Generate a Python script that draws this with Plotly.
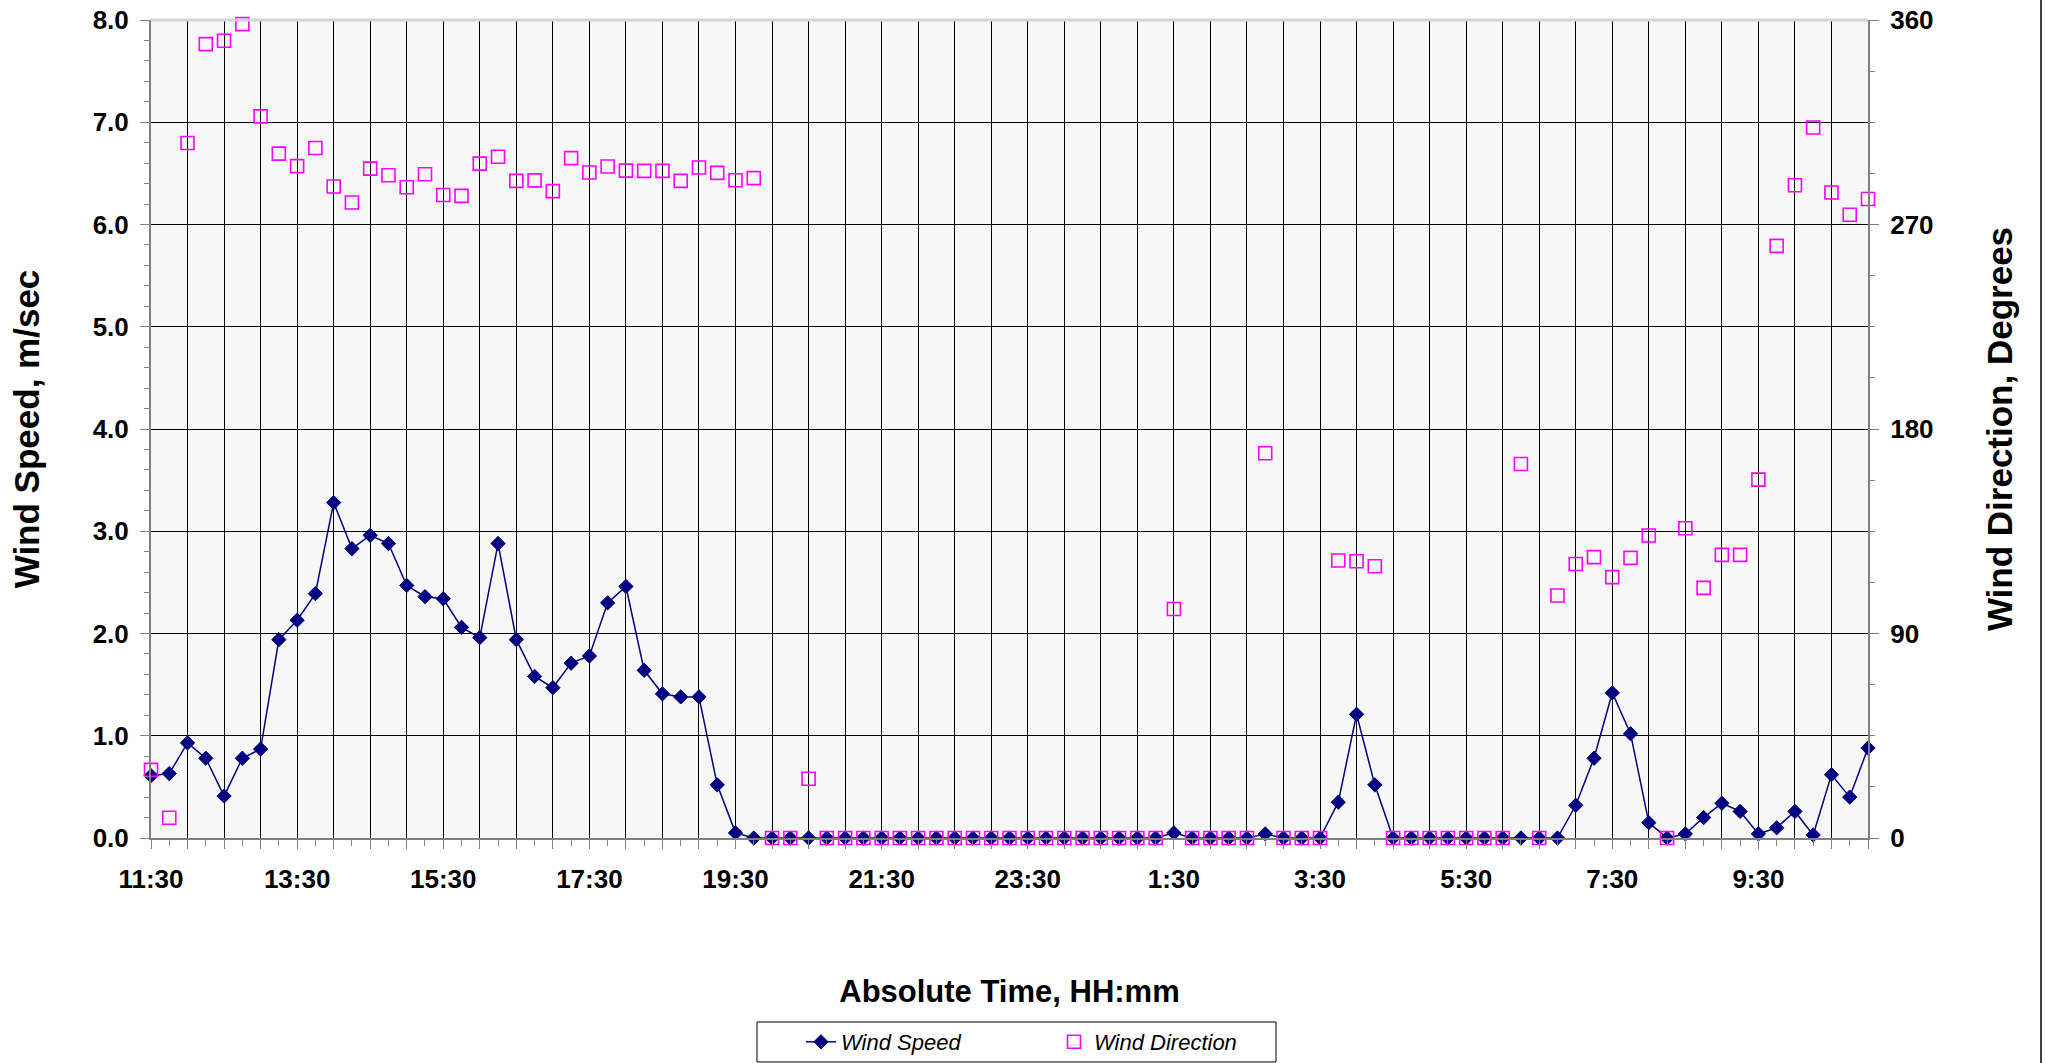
import plotly.graph_objects as go
from datetime import datetime, timedelta

# ---- data ----
time_labels = [
    "11:30", "11:45", "12:00", "12:15", "12:30", "12:45", "13:00", "13:15", "13:30", "13:45",
    "14:00", "14:15", "14:30", "14:45", "15:00", "15:15", "15:30", "15:45", "16:00", "16:15",
    "16:30", "16:45", "17:00", "17:15", "17:30", "17:45", "18:00", "18:15", "18:30", "18:45",
    "19:00", "19:15", "19:30", "19:45", "20:00", "20:15", "20:30", "20:45", "21:00", "21:15",
    "21:30", "21:45", "22:00", "22:15", "22:30", "22:45", "23:00", "23:15", "23:30", "23:45",
    "0:00", "0:15", "0:30", "0:45", "1:00", "1:15", "1:30", "1:45", "2:00", "2:15",
    "2:30", "2:45", "3:00", "3:15", "3:30", "3:45", "4:00", "4:15", "4:30", "4:45",
    "5:00", "5:15", "5:30", "5:45", "6:00", "6:15", "6:30", "6:45", "7:00", "7:15",
    "7:30", "7:45", "8:00", "8:15", "8:30", "8:45", "9:00", "9:15", "9:30", "9:45",
    "10:00", "10:15", "10:30", "10:45", "11:00",
]

wind_speed = [
    0.61, 0.63, 0.93, 0.78, 0.41, 0.78, 0.87, 1.94, 2.13, 2.39,
    3.28, 2.83, 2.96, 2.88, 2.47, 2.36, 2.34, 2.06, 1.96, 2.88,
    1.94, 1.58, 1.47, 1.71, 1.78, 2.30, 2.46, 1.64, 1.41, 1.38,
    1.38, 0.52, 0.05, 0.00, 0.00, 0.00, 0.00, 0.00, 0.00, 0.00,
    0.00, 0.00, 0.00, 0.00, 0.00, 0.00, 0.00, 0.00, 0.00, 0.00,
    0.00, 0.00, 0.00, 0.00, 0.00, 0.00, 0.05, 0.00, 0.00, 0.00,
    0.00, 0.04, 0.00, 0.00, 0.00, 0.35, 1.21, 0.52, 0.00, 0.00,
    0.00, 0.00, 0.00, 0.00, 0.00, 0.00, 0.00, 0.00, 0.32, 0.78,
    1.42, 1.02, 0.15, 0.00, 0.04, 0.20, 0.34, 0.26, 0.04, 0.10,
    0.26, 0.03, 0.62, 0.40, 0.88,
]

wind_direction = [
    30.0, 8.9, 305.9, 349.4, 350.9, 358.2, 317.6, 301.2, 295.7, 303.7,
    286.7, 279.7, 294.6, 291.7, 286.4, 292.1, 283.0, 282.6, 296.8, 299.8,
    289.2, 289.4, 284.7, 299.2, 292.9, 295.5, 293.7, 293.6, 293.6, 289.2,
    295.1, 292.7, 289.5, 290.4, 0.0, 0.0, 26.1, 0.0, 0.0, 0.0,
    0.0, 0.0, 0.0, 0.0, 0.0, 0.0, 0.0, 0.0, 0.0, 0.0,
    0.0, 0.0, 0.0, 0.0, 0.0, 0.0, 100.8, 0.0, 0.0, 0.0,
    0.0, 169.3, 0.0, 0.0, 0.0, 122.1, 121.8, 119.6, 0.0, 0.0,
    0.0, 0.0, 0.0, 0.0, 0.0, 164.6, 0.0, 106.7, 120.6, 123.6,
    114.8, 123.3, 133.1, 0.0, 136.3, 110.1, 124.6, 124.6, 157.7, 260.6,
    287.3, 312.7, 284.1, 274.3, 281.2,
]

x_tick_labels = ["11:30", "13:30", "15:30", "17:30", "19:30", "21:30",
                 "23:30", "1:30", "3:30", "5:30", "7:30", "9:30"]

# ---- convert clock labels to datetimes (day rolls over after midnight) ----
times = []
day = datetime(2000, 1, 1)
prev = None
for lab in time_labels:
    h, m = map(int, lab.split(":"))
    mins = h * 60 + m
    if prev is not None and mins < prev:
        day = day + timedelta(days=1)
    prev = mins
    times.append(day + timedelta(minutes=mins))

fmt = "%Y-%m-%d %H:%M:%S"
xs = [t.strftime(fmt) for t in times]
grid_vals = xs[::2]
grid_text = [lab if lab in x_tick_labels else "" for lab in time_labels[::2]]

FONT = "Liberation Sans, Arial, sans-serif"
tickfont = dict(family=FONT, size=26, color="black", weight="bold")
xtitlefont = dict(family=FONT, size=31, color="black", weight="bold")
ytitlefont = dict(family=FONT, size=35, color="black", weight="bold")

fig = go.Figure()
fig.add_trace(go.Scatter(
    x=xs, y=wind_speed, mode="lines+markers", name="Wind Speed",
    line=dict(color="#000080", width=1.5),
    marker=dict(symbol="diamond", size=11, color="#000080",
                line=dict(color="#000080", width=1)),
    cliponaxis=False,
))
fig.add_trace(go.Scatter(
    x=xs, y=wind_direction, mode="markers", name="Wind Direction", yaxis="y2",
    marker=dict(symbol="square-open", size=13, color="#FF00FF",
                line=dict(color="#FF00FF", width=1.6)),
    cliponaxis=False,
))

L, R, T, B = 151, 178, 20, 225
W, H = 2046, 1063
pw = W - L - R
ph = H - T - B

def px_x(p):
    return (p - L) / pw

def px_y(p):
    return (H - B - p) / ph

fig.update_layout(
    width=W, height=H,
    margin=dict(l=L, r=R, t=T, b=B, autoexpand=False),
    paper_bgcolor="white",
    plot_bgcolor="#F7F7F7",
    font=dict(family=FONT, color="black"),
    showlegend=True,
    legend=dict(
        orientation="h", x=px_x(801), xanchor="left", y=px_y(1042), yanchor="middle",
        font=dict(family=FONT, size=22, color="black", style="italic"),
        bgcolor="rgba(0,0,0,0)", borderwidth=0,
        entrywidth=208, entrywidthmode="pixels",
    ),
    xaxis=dict(
        type="date", range=[xs[0], xs[-1]], automargin=False,
        tickmode="array", tickvals=grid_vals, ticktext=grid_text,
        showgrid=True, gridcolor="black", gridwidth=1,
        showline=True, linecolor="#808080", linewidth=2,
        ticks="outside", ticklen=9, tickcolor="#808080", tickwidth=1,
        minor=dict(ticks="outside", ticklen=6, dtick=900000, tick0=xs[0],
                   tickcolor="#808080", showgrid=False),
        tickfont=tickfont, ticklabelstandoff=8,
        title=dict(text="Absolute Time, HH:mm", font=xtitlefont, standoff=87),
        zeroline=False,
    ),
    yaxis=dict(
        range=[0, 8], tick0=0, dtick=1, tickformat=".1f", automargin=False,
        showgrid=True, gridcolor="black", gridwidth=1, zeroline=False,
        showline=True, linecolor="#808080", linewidth=2,
        ticks="outside", ticklen=9, tickcolor="#808080",
        minor=dict(ticks="outside", ticklen=5, dtick=0.2, tickcolor="#808080", showgrid=False),
        tickfont=tickfont, ticklabelstandoff=6,
        title=dict(text="Wind Speed, m/sec", font=ytitlefont, standoff=42),
    ),
    yaxis2=dict(
        overlaying="y", side="right", anchor="x", automargin=False,
        range=[0, 360], tick0=0, dtick=90,
        showgrid=False, zeroline=False,
        showline=True, linecolor="#808080", linewidth=2,
        ticks="outside", ticklen=9, tickcolor="#808080",
        minor=dict(ticks="outside", ticklen=5, dtick=22.5, tickcolor="#808080", showgrid=False),
        tickfont=tickfont, ticklabelstandoff=6,
        title=dict(text="Wind Direction, Degrees", font=ytitlefont, standoff=55),
    ),
    shapes=[
        # light top border of the plot area
        dict(type="line", xref="paper", yref="paper", x0=0, x1=1, y0=1, y1=1,
             line=dict(color="#D4D4D4", width=3), layer="above"),
        # legend box
        dict(type="rect", xref="paper", yref="paper",
             x0=px_x(757), x1=px_x(1276), y0=px_y(1062), y1=px_y(1022),
             line=dict(color="black", width=1), fillcolor="white", layer="below"),
        # chart frame at the far right
        dict(type="line", xref="paper", yref="paper",
             x0=px_x(2041), x1=px_x(2041), y0=px_y(1063), y1=px_y(0),
             line=dict(color="black", width=1.5)),
    ],
)

fig.write_html(
    "out.html",
    config={"displayModeBar": False},
    post_script="document.body.style.margin='0';document.body.style.overflow='hidden';",
)
